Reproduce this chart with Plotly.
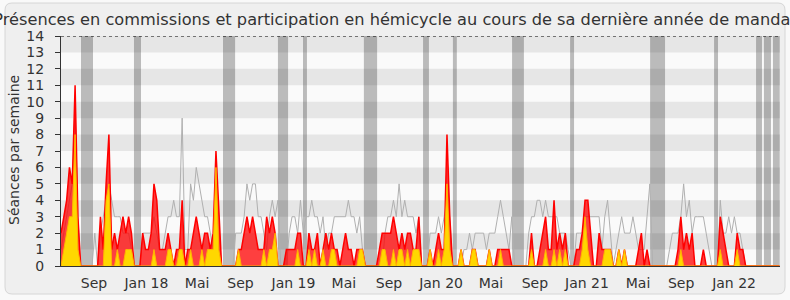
import plotly.graph_objects as go

# ---------------- data (weekly, week index since start of mandate) ----------------
commission = [
    2, 3, 4, 6, 5, 11, 3, 0, 0, 0, 0, 0, 0, 0, 3, 1,
    5, 8, 1, 2, 1, 2, 3, 2, 3, 2, 0, 0, 0, 2, 1, 1,
    2, 5, 4, 1, 1, 1, 2, 1, 0, 1, 1, 4, 0, 1, 1, 2,
    3, 2, 1, 2, 2, 1, 2, 7, 3, 0, 0, 0, 0, 0, 0, 1,
    1, 2, 3, 2, 3, 2, 1, 1, 1, 3, 2, 3, 2, 0, 0, 0,
    1, 1, 1, 1, 2, 2, 0, 0, 2, 1, 1, 2, 0, 1, 2, 1,
    2, 1, 1, 0, 1, 2, 1, 1, 0, 1, 1, 1, 0, 0, 0, 0,
    0, 1, 2, 2, 2, 2, 3, 2, 1, 2, 1, 2, 2, 1, 1, 3,
    0, 0, 0, 1, 0, 1, 2, 1, 1, 8, 3, 0, 0, 0, 1, 0,
    0, 0, 1, 1, 0, 0, 0, 0, 1, 0, 0, 1, 1, 1, 1, 1,
    0, 0, 0, 0, 0, 0, 0, 2, 0, 0, 1, 2, 3, 1, 1, 4,
    1, 2, 1, 2, 0, 0, 0, 1, 1, 2, 4, 4, 2, 0, 0, 2,
    1, 1, 1, 1, 0, 0, 1, 0, 1, 0, 0, 0, 0, 1, 2, 0,
    1, 0, 0, 0, 0, 0, 0, 0, 0, 0, 0, 1, 3, 1, 2, 1,
    2, 0, 0, 0, 1, 0, 0, 0, 0, 0, 3, 2, 1, 0, 0, 0,
    2, 1, 1, 0, 0, 0, 0, 0, 0, 0, 0, 0, 0, 0, 0, 0,
]

hemicycle = [
    0, 1, 2, 3, 3, 8, 1, 0, 0, 0, 0, 0, 0, 0, 0, 0,
    4, 5, 0, 0, 1, 0, 0, 1, 1, 1, 0, 0, 0, 0, 0, 0,
    0, 1, 0, 0, 0, 0, 1, 1, 0, 0, 1, 1, 0, 0, 1, 0,
    0, 0, 1, 0, 1, 1, 1, 6, 1, 0, 0, 0, 0, 0, 0, 1,
    0, 0, 0, 0, 0, 0, 0, 0, 1, 0, 1, 1, 2, 0, 0, 0,
    0, 0, 0, 0, 1, 0, 0, 0, 1, 0, 1, 0, 0, 1, 0, 0,
    1, 1, 0, 0, 0, 0, 0, 0, 0, 0, 1, 1, 0, 0, 0, 0,
    0, 0, 1, 1, 0, 0, 1, 0, 1, 1, 0, 1, 0, 1, 1, 1,
    0, 0, 0, 1, 0, 0, 1, 0, 1, 5, 1, 0, 0, 0, 1, 0,
    0, 0, 1, 1, 0, 0, 0, 0, 1, 0, 0, 0, 1, 0, 0, 0,
    0, 0, 0, 0, 0, 0, 0, 1, 0, 0, 0, 0, 1, 0, 0, 1,
    0, 1, 0, 1, 0, 0, 0, 0, 0, 1, 3, 1, 0, 0, 0, 0,
    0, 1, 1, 1, 0, 0, 1, 0, 1, 0, 0, 0, 0, 0, 0, 0,
    0, 0, 0, 0, 0, 0, 0, 0, 0, 0, 0, 0, 1, 0, 0, 0,
    0, 0, 0, 0, 0, 0, 0, 0, 0, 0, 1, 0, 0, 0, 0, 0,
    1, 0, 0, 0, 0, 0, 0, 0, 0, 0, 0, 0, 0, 0, 0, 0,
]

median = [
    1, 2, 3, 4, 5, 10, 3, 0, 0, 0, 0, 0, 2, 0, 2, 3,
    4, 5, 4, 3, 3, 3, 2, 2, 2, 1, 0, 0, 0, 2, 2, 2,
    2, 3, 2, 1, 1, 2, 3, 3, 4, 3, 3, 9, 1, 1, 5, 4,
    6, 5, 4, 3, 3, 2, 1, 2, 1, 0, 0, 0, 0, 0, 2, 2,
    2, 3, 5, 4, 5, 5, 3, 3, 2, 1, 3, 4, 3, 4, 0, 0,
    0, 2, 3, 3, 2, 4, 2, 3, 3, 4, 3, 3, 2, 3, 1, 2,
    2, 3, 3, 3, 3, 3, 4, 3, 3, 2, 3, 1, 0, 0, 0, 0,
    0, 0, 0, 2, 3, 3, 4, 3, 5, 3, 4, 3, 3, 3, 2, 3,
    0, 0, 0, 2, 2, 2, 3, 2, 3, 4, 3, 0, 0, 0, 0, 1,
    1, 2, 1, 2, 2, 2, 2, 1, 2, 2, 2, 3, 4, 3, 2, 1,
    3, 0, 0, 0, 0, 0, 2, 3, 3, 4, 4, 3, 4, 3, 3, 3,
    3, 2, 2, 2, 1, 0, 0, 2, 2, 2, 3, 3, 3, 3, 3, 3,
    1, 3, 4, 2, 0, 1, 2, 3, 2, 2, 2, 3, 2, 1, 1, 1,
    3, 5, 0, 0, 0, 0, 0, 0, 1, 2, 2, 2, 3, 5, 3, 4,
    2, 3, 3, 3, 3, 2, 1, 0, 0, 0, 4, 2, 2, 3, 2, 3,
    2, 2, 1, 0, 0, 0, 0, 0, 0, 0, 0, 0, 0, 0, 0, 0,
]

weeks = list(range(len(commission)))

# parliamentary breaks (start week, end week)
vacances = [
    (7.1, 11.36), (25.9, 28.4), (57.5, 61.8), (77.0, 80.6), (85.9, 87.3),
    (107.5, 112.2), (128.5, 130.6), (139.1, 140.5), (160.1, 164.3),
    (180.7, 182.1), (209.1, 214.4), (231.8, 233.2), (246.7, 248.8),
    (249.5, 252.0), (252.7, 255.1),
]

tick_weeks = [11.7, 30.3, 48.3, 63.7, 82.5, 100.4, 116.4, 134.9, 152.6,
              168.2, 186.7, 204.8, 220.1, 238.9]
tick_labels = ["Sep", "Jan 18", "Mai", "Sep", "Jan 19", "Mai", "Sep", "Jan 20",
               "Mai", "Sep", "Jan 21", "Mai", "Sep", "Jan 22"]

title_text = ("Présences en commissions et participation en hémicycle "
              "au cours de sa dernière année de mandat")
y_title = "Séances par semaine"

# ---------------- layout geometry ----------------
W_FIG, H_FIG = 790, 300
L, R, T, B = 61, 10, 36, 34
PW, PH = W_FIG - L - R, H_FIG - T - B
X_MAX = 255.2
Y_MAX = 14
FONT = "DejaVu Sans"


def fx(px):
    return (px - L) / PW


def fy(py):
    return (H_FIG - B - py) / PH


def rounded_rect(x0, y0, x1, y1, r):
    return (f"M {fx(x0 + r)},{fy(y0)} L {fx(x1 - r)},{fy(y0)} "
            f"Q {fx(x1)},{fy(y0)} {fx(x1)},{fy(y0 + r)} "
            f"L {fx(x1)},{fy(y1 - r)} Q {fx(x1)},{fy(y1)} {fx(x1 - r)},{fy(y1)} "
            f"L {fx(x0 + r)},{fy(y1)} Q {fx(x0)},{fy(y1)} {fx(x0)},{fy(y1 - r)} "
            f"L {fx(x0)},{fy(y0 + r)} Q {fx(x0)},{fy(y0)} {fx(x0 + r)},{fy(y0)} Z")


shapes = []
# outer frame
shapes.append(dict(type="path", xref="paper", yref="paper",
                   path=rounded_rect(5, 3, 785, 294, 7),
                   fillcolor="#efefef", line=dict(color="#d6d6d6", width=1),
                   layer="below"))
# plot area background
shapes.append(dict(type="rect", xref="paper", yref="paper", x0=0, x1=1, y0=0, y1=1,
                   fillcolor="#fafafa", line=dict(width=0), layer="below"))
# horizontal bands
for k in range(0, Y_MAX, 2):
    shapes.append(dict(type="rect", xref="paper", yref="y", x0=0, x1=1,
                       y0=k + 1, y1=k + 2, fillcolor="#e6e6e6",
                       line=dict(width=0), layer="below"))
# breaks
for a, b in vacances:
    shapes.append(dict(type="rect", xref="x", yref="y", x0=a, x1=b, y0=0, y1=Y_MAX,
                       fillcolor="rgba(0,0,0,0.25)", line=dict(width=0),
                       layer="below"))
# dotted top line
shapes.append(dict(type="line", xref="paper", yref="y", x0=0, x1=1, y0=Y_MAX, y1=Y_MAX,
                   line=dict(color="#000000", width=1, dash="dot"), layer="above"))

fig = go.Figure()
fig.add_trace(go.Scatter(x=weeks, y=median, mode="lines",
                         line=dict(color="#b0b0b0", width=1),
                         hoverinfo="skip", showlegend=False))
fig.add_trace(go.Scatter(x=weeks, y=commission, mode="lines", fill="tozeroy",
                         line=dict(color="#ff0000", width=1.5),
                         fillcolor="rgba(255,0,0,0.75)",
                         hoverinfo="skip", showlegend=False))
fig.add_trace(go.Scatter(x=weeks, y=hemicycle, mode="lines", fill="tozeroy",
                         line=dict(color="#ffb400", width=1),
                         fillcolor="#ffd700",
                         hoverinfo="skip", showlegend=False))

fig.update_layout(
    width=W_FIG, height=H_FIG,
    margin=dict(l=L, r=R, t=T, b=B, pad=0),
    paper_bgcolor="#f9f9f9",
    plot_bgcolor="#fafafa",
    shapes=shapes,
    font=dict(family=FONT, color="#333333", size=14),
    title=dict(text=title_text, x=0.5, xref="container", xanchor="center",
               y=1 - 19 / H_FIG, yref="container", yanchor="middle",
               font=dict(family=FONT, size=16.2, color="#333333")),
    annotations=[dict(text=y_title, textangle=-90, xref="paper", yref="paper",
                      x=fx(14), y=fy(150), xanchor="center", yanchor="middle",
                      showarrow=False,
                      font=dict(family=FONT, size=14, color="#333333"))],
    xaxis=dict(range=[0, X_MAX], tickvals=tick_weeks, ticktext=tick_labels,
               showgrid=False, zeroline=False, showline=True, linecolor="#333333",
               linewidth=1, ticks="", ticklabelstandoff=4,
               tickfont=dict(family=FONT, size=14, color="#333333"),
               fixedrange=True),
    yaxis=dict(range=[0, Y_MAX], tickvals=list(range(0, Y_MAX + 1)),
               showgrid=False, zeroline=False, showline=True, linecolor="#333333",
               linewidth=1, ticks="outside", ticklen=5, tickcolor="#333333",
               ticklabelstandoff=8,
               tickfont=dict(family=FONT, size=14, color="#333333"),
               fixedrange=True),
)

fig.write_html("out.html", config={"displayModeBar": False})
